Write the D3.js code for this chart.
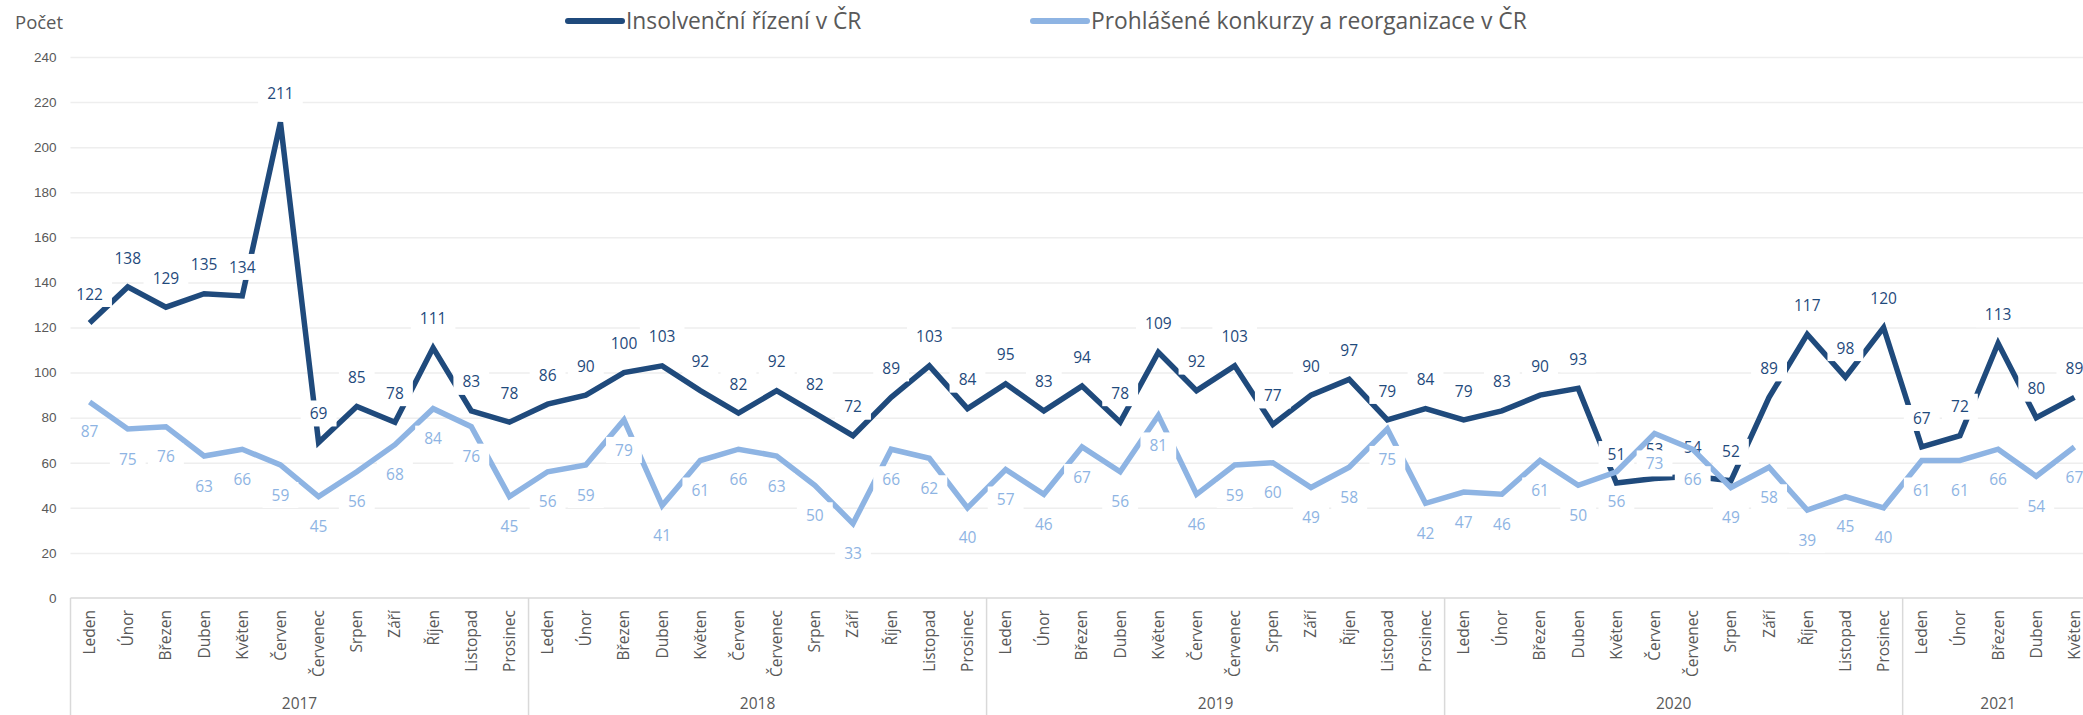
<!DOCTYPE html>
<html>
<head>
<meta charset="utf-8">
<script src="https://cdn.jsdelivr.net/npm/d3@7"></script>
<style>
  body { margin: 0; background: #fff; }
  svg { display: block; font-family: "Open Sans", sans-serif; }
  .grid line { stroke: #eeeeee; stroke-width: 1.5; }
  .grid .domain { display: none; }
  .ytick text { fill: #595959; font-size: 13.5px; }
</style>
</head>
<body>
<svg id="chart" width="2083" height="715"></svg>
<script>
"use strict";

// --- data -----------------------------------------------------------
var months = ["Leden", "Únor", "Březen", "Duben", "Květen", "Červen", "Červenec",
              "Srpen", "Září", "Říjen", "Listopad", "Prosinec"];
var years = ["2017", "2018", "2019", "2020", "2021"];
var monthsPerYear = [12, 12, 12, 12, 5];
var yTicks = [0, 20, 40, 60, 80, 100, 120, 140, 160, 180, 200, 220, 240];

var seriesNames = ["Insolvenční řízení v ČR", "Prohlášené konkurzy a reorganizace v ČR"];

var insolvence = [
	122, 138, 129, 135, 134, 211, 69, 85, 78, 111, 83, 78,
	86, 90, 100, 103, 92, 82, 92, 82, 72, 89, 103, 84,
	95, 83, 94, 78, 109, 92, 103, 77, 90, 97, 79, 84,
	79, 83, 90, 93, 51, 53, 54, 52, 89, 117, 98, 120,
	67, 72, 113, 80, 89
];
var konkurzy = [
	87, 75, 76, 63, 66, 59, 45, 56, 68, 84, 76, 45,
	56, 59, 79, 41, 61, 66, 63, 50, 33, 66, 62, 40,
	57, 46, 67, 56, 81, 46, 59, 60, 49, 58, 75, 42,
	47, 46, 61, 50, 56, 73, 66, 49, 58, 39, 45, 40,
	61, 61, 66, 54, 67
];

var DARK = "#1f4a7c";
var LIGHT = "#8eb4e3";

document.addEventListener("DOMContentLoaded", init);

function init() {
	var svg = d3.select("#chart");
	var left = 70.5, top = 57, bottom = 598, step = 38.17;

	// category keys: one per month
	var cats = [];
	years.forEach((y, yi) => {
		for (let m = 0; m < monthsPerYear[yi]; m++) cats.push(y + "-" + m);
	});

	var x = d3.scaleBand()
	          .domain(cats)
	          .range([left, left + step * cats.length])
	          .padding(0);
	var y = d3.scaleLinear().domain([0, 240]).range([bottom, top]);
	var cx = k => x(k) + x.bandwidth() / 2;

	// gridlines + y labels
	var grid = svg.append("g")
	              .attr("class", "grid ytick")
	              .attr("transform", "translate(" + left + ",0)")
	              .call(d3.axisLeft(y).tickValues(yTicks)
	                      .tickSize(-(2083 - left))
	                      .tickPadding(15));
	grid.selectAll(".tick line").filter(d => d === 0).remove();
	grid.selectAll("text").attr("x", -14);

	// category axis
	var axisCol = "#d9d9d9";
	svg.append("line")
	   .attr("x1", left).attr("x2", 2083)
	   .attr("y1", bottom).attr("y2", bottom)
	   .attr("stroke", axisCol).attr("stroke-width", 1.5);

	var xa = svg.append("g")
	            .attr("transform", "translate(0," + bottom + ")")
	            .call(d3.axisBottom(x).tickSize(0)
	                    .tickFormat(k => months[+k.split("-")[1]]));
	xa.select(".domain").remove();
	xa.selectAll("text")
	  .attr("transform", "rotate(-90)")
	  .attr("x", -12)
	  .attr("y", 0)
	  .attr("dy", "0.35em")
	  .attr("text-anchor", "end")
	  .attr("fill", "#595959")
	  .style("font-size", "15.5px")
	  .style("font-family", "Open Sans");

	// year separators and labels
	var start = 0;
	years.forEach((yr, yi) => {
		let k0 = cats[start];
		let x0 = x(k0);
		let x1 = x0 + step * monthsPerYear[yi];
		svg.append("line")
		   .attr("x1", x0).attr("x2", x0)
		   .attr("y1", bottom).attr("y2", 715)
		   .attr("stroke", axisCol).attr("stroke-width", 1.5);
		svg.append("text")
		   .attr("x", (x0 + x1) / 2)
		   .attr("y", 709)
		   .attr("text-anchor", "middle")
		   .attr("fill", "#595959")
		   .style("font-size", "15.5px")
		   .text(yr);
		start += monthsPerYear[yi];
	});

	// axis title
	svg.append("text")
	   .attr("x", 15).attr("y", 29)
	   .attr("fill", "#595959")
	   .style("font-size", "18.5px")
	   .text("Počet");

	var line = d3.line()
	             .x((d, i) => cx(cats[i]))
	             .y(d => y(d));

	function drawLine(vals, col) {
		svg.append("path")
		   .datum(vals)
		   .attr("d", line)
		   .attr("fill", "none")
		   .attr("stroke", col)
		   .attr("stroke-width", 5.5)
		   .attr("stroke-linejoin", "miter");
	}

	function drawLabels(vals, col, dy) {
		var g = svg.append("g")
		           .selectAll("g")
		           .data(vals)
		           .enter()
		           .append("g")
		           .attr("transform", (d, i) => "translate(" + cx(cats[i]) + "," + (y(d) + dy) + ")");
		g.append("rect");
		g.append("text")
		 .attr("text-anchor", "middle")
		 .attr("dy", "0.36em")
		 .attr("fill", col)
		 .style("font-size", "15.5px")
		 .text(d => d);
		g.each(function() {
			let t = d3.select(this).select("text").node().getBBox();
			d3.select(this).select("rect")
			  .attr("x", -t.width / 2 - 9)
			  .attr("y", -13)
			  .attr("width", t.width + 18)
			  .attr("height", 26)
			  .attr("fill", "#fff");
		});
	}

	drawLine(insolvence, DARK);
	drawLabels(insolvence, DARK, -29);
	drawLine(konkurzy, LIGHT);
	drawLabels(konkurzy, LIGHT, 30);

	// legend
	var legend = [
		{name: seriesNames[0], col: DARK, x: 565},
		{name: seriesNames[1], col: LIGHT, x: 1030}
	];
	var lg = svg.append("g")
	            .selectAll("g")
	            .data(legend)
	            .enter()
	            .append("g")
	            .attr("transform", d => "translate(" + d.x + ",21)");
	lg.append("line")
	  .attr("x1", 3).attr("x2", 57)
	  .attr("stroke", d => d.col)
	  .attr("stroke-width", 6)
	  .attr("stroke-linecap", "round");
	lg.append("text")
	  .attr("x", 61)
	  .attr("dy", "0.35em")
	  .attr("fill", "#595959")
	  .style("font-size", "22.8px")
	  .text(d => d.name);
}
</script>
</body>
</html>
